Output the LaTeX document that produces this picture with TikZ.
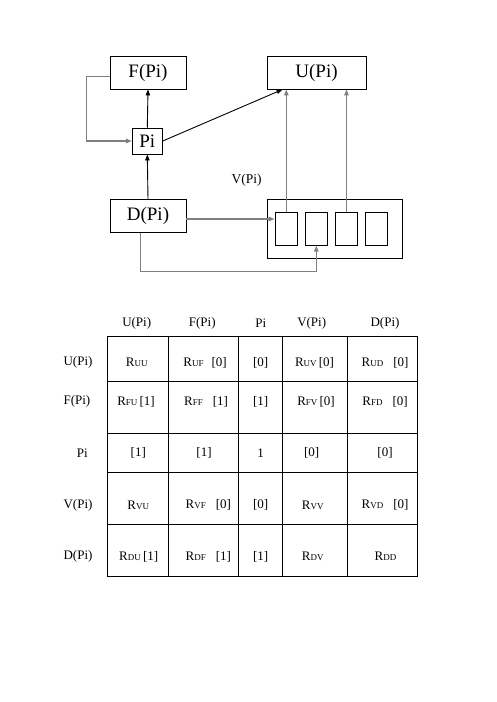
\documentclass[tikz,border=0pt]{standalone}
\usepackage{fontspec}
\setmainfont{Liberation Serif}
\usetikzlibrary{arrows.meta,calc}
\newcommand{\rsub}[1]{R{\fontsize{9}{10}\selectfont #1}}
\begin{document}
\begin{tikzpicture}[x=1pt,y=-1pt,
  box/.style={draw,line width=0.9pt,inner sep=0pt,font=\fontsize{19}{21}\selectfont},
  sbox/.style={draw,line width=0.9pt,minimum width=22.5pt,minimum height=33pt,inner sep=0pt},
  arr/.style={line width=0.9pt,-{Triangle[length=6pt,width=4.5pt]}},
  garr/.style={arr,draw=black!50,line width=1.3pt},
  lab/.style={inner sep=0pt,font=\fontsize{13}{15}\selectfont},
  grid/.style={line width=0.9pt}]
\useasboundingbox (0,0) rectangle (496,702);
% diagram
\node[box,minimum width=76pt,minimum height=33pt] (F) at (148,72.5) {F(Pi)};
\node[box,minimum width=99pt,minimum height=33pt] (U) at (316.5,72.5) {U(Pi)};
\node[box,minimum width=30pt,minimum height=26pt] (Pi) at (147.3,141) {Pi};
\node[box,minimum width=76pt,minimum height=33pt] (D) at (148,216) {D(Pi)};
\node[draw,line width=0.9pt,minimum width=135pt,minimum height=59pt,inner sep=0pt] (V) at (335,229) {};
\node[sbox] (b1) at (286.3,228.7) {};
\node[sbox] (b2) at (316.3,228.7) {};
\node[sbox] (b3) at (346.5,228.7) {};
\node[sbox] (b4) at (376.3,228.7) {};
\node[lab,font=\fontsize{13.5}{15}\selectfont] (vl) at (246.7,180) {V(Pi)};
\coordinate (Fl) at ($(F.west)+(0,3.8)$);
\draw[garr] (Fl) -- ++(-23.3,0) |- (Pi.west);
\draw[arr] (Pi.north) -- (F.south);
\draw[arr] (Pi.east) -- ($(U.south west)+(16,0)$);
\draw[arr] (D.north) -- (Pi.south);
\draw[garr] (b1.north) -- (b1.north |- U.south);
\draw[garr] (b3.north) -- (b3.north |- U.south);
\coordinate (De) at ($(D.east)+(0,3)$);
\draw[garr] (De) -- (De -| b1.west);
\coordinate (Ds) at ($(D.south)+(-7.3,0)$);
\draw[garr] (Ds) -- ++(0,38.5) -| (b2.south);
% table
\draw[grid] (107.3,336) rectangle (417.3,576);
\foreach \xx in {168.3,238.3,282.3,347.3} \draw[grid] (\xx,336) -- (\xx,576);
\foreach \yy in {381,433.3,472.3,524.3} \draw[grid] (107.3,\yy) -- (417.3,\yy);
% headers
\node[lab] (hU) at (136.7,323.3) {U(Pi)};
\node[lab] (hF) at (202.3,323.3) {F(Pi)};
\node[lab] (hP) at (260.7,323.3) {Pi};
\node[lab] (hV) at (311.7,323.3) {V(Pi)};
\node[lab] (hD) at (385,323.3) {D(Pi)};
% row labels
\node[lab,anchor=east] (rU) at (92.7,362.7) {U(Pi)};
\node[lab,anchor=east] (rF) at (90.5,401.7) {F(Pi)};
\node[lab,anchor=east] (rP) at (88,453.3) {Pi};
\node[lab,anchor=east] (rV) at (92.7,505) {V(Pi)};
\node[lab,anchor=east] (rD) at (92.7,556.7) {D(Pi)};
% row U
\node[lab] (c11) at (136.7,362.7) {\rsub{UU}};
\node[lab] (c12) at (205,362.7) {\rsub{UF}\hspace{8pt}[0]};
\node[lab] (c13) at (260.7,362.7) {[0]};
\node[lab] (c14) at (314.5,362.7) {\rsub{UV}\,[0]};
\node[lab] (c15) at (385,362.7) {\rsub{UD}\hspace{10pt}[0]};
% row F
\node[lab] (c21) at (136,401.7) {\rsub{FU}\,[1]};
\node[lab] (c22) at (206,401.7) {\rsub{FF}\hspace{10pt}[1]};
\node[lab] (c23) at (260.7,401.7) {[1]};
\node[lab] (c24) at (316,401.7) {\rsub{FV}\,[0]};
\node[lab] (c25) at (385,401.7) {\rsub{FD}\hspace{10pt}[0]};
% row Pi
\node[lab] (c31) at (138.3,453.3) {[1]};
\node[lab] (c32) at (204,453.3) {[1]};
\node[lab] (c33) at (260.7,453.3) {1};
\node[lab] (c34) at (311.7,453.3) {[0]};
\node[lab] (c35) at (385,453.3) {[0]};
% row V
\node[lab] (c41) at (138.3,505) {\rsub{VU}};
\node[lab] (c42) at (208.3,505) {\rsub{VF}\hspace{10pt}[0]};
\node[lab] (c43) at (260.7,505) {[0]};
\node[lab] (c44) at (312.7,505) {\rsub{VV}};
\node[lab] (c45) at (385,505) {\rsub{VD}\hspace{10pt}[0]};
% row D
\node[lab] (c51) at (138.7,556.7) {\rsub{DU}\,[1]};
\node[lab] (c52) at (208.3,556.7) {\rsub{DF}\hspace{10pt}[1]};
\node[lab] (c53) at (260.7,556.7) {[1]};
\node[lab] (c54) at (312.7,556.7) {\rsub{DV}};
\node[lab] (c55) at (385.5,556.7) {\rsub{DD}};
\end{tikzpicture}
\end{document}
